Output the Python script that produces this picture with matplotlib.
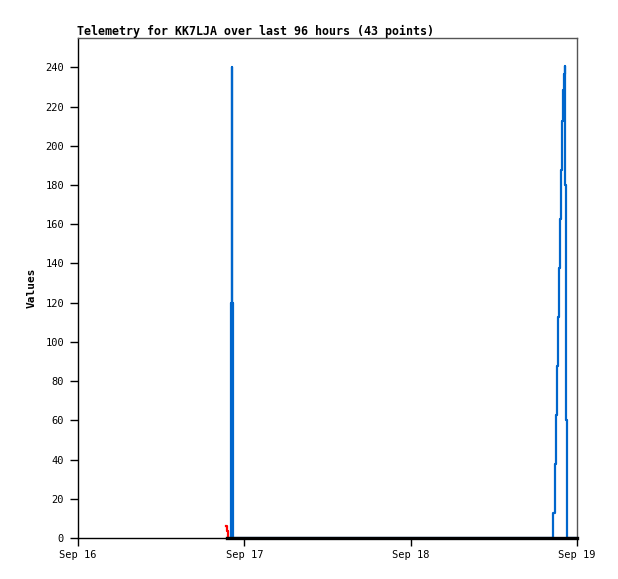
import matplotlib
matplotlib.use("Agg")
import matplotlib.pyplot as plt
import pandas as pd

# telemetry channels (step plots)
red_times = ["2024-09-16 21:20", "2024-09-16 21:33", "2024-09-16 21:40"]
red_vals = [6, 3.5, 0]

blue_times = ["2024-09-16 21:50", "2024-09-16 22:01", "2024-09-16 22:09", "2024-09-16 22:11",
              "2024-09-16 22:19", "2024-09-18 20:35", "2024-09-18 20:49", "2024-09-18 20:58",
              "2024-09-18 21:07", "2024-09-18 21:15", "2024-09-18 21:24", "2024-09-18 21:33",
              "2024-09-18 21:41", "2024-09-18 21:52", "2024-09-18 22:01", "2024-09-18 22:07",
              "2024-09-18 22:13", "2024-09-18 22:20", "2024-09-18 22:25", "2024-09-18 22:31",
              "2024-09-19 00:00"]
blue_vals = [0, 120, 240, 120, 0, 12.5, 37.5, 62.5, 87.5, 112.5, 137.5, 162.5, 187.5,
             212.5, 228.5, 236.5, 240.5, 180, 60, 0, 0]

black_times = ["2024-09-16 21:30", "2024-09-19 00:00"]
black_vals = [0, 0]

x_ticks = ["2024-09-16", "2024-09-17", "2024-09-18", "2024-09-19"]
x_labels = ["Sep 16", "Sep 17", "Sep 18", "Sep 19"]
y_ticks = list(range(0, 241, 20))

plt.rcParams["font.family"] = "DejaVu Sans Mono"

fig = plt.figure(figsize=(6.18, 5.79), dpi=100)
ax = fig.add_axes([78 / 618, 41 / 579, 499 / 618, 500 / 579])

ax.step(pd.to_datetime(blue_times), blue_vals, where="post", color="#0066cc", lw=1.6, zorder=2)
ax.step(pd.to_datetime(red_times), red_vals, where="post", color="#ff0000", lw=1.6, zorder=3)
ax.step(pd.to_datetime(black_times), black_vals, where="post", color="black", lw=2.4, zorder=4,
        clip_on=False)

ax.set_xlim(pd.Timestamp(x_ticks[0]), pd.Timestamp(x_ticks[-1]))
ax.set_ylim(0, 255)
ax.set_xticks(pd.to_datetime(x_ticks))
ax.set_xticklabels(x_labels)
ax.set_yticks(y_ticks)
ax.tick_params(axis="both", direction="out", length=6, width=1, labelsize=7.5, colors="black")
ax.tick_params(axis="x", pad=3)
ax.tick_params(axis="y", pad=4)

for side in ["top", "right"]:
    ax.spines[side].set_color("#555555")
    ax.spines[side].set_linewidth(1)
for side in ["left", "bottom"]:
    ax.spines[side].set_color("black")
    ax.spines[side].set_linewidth(1)

ax.set_ylabel("Values", fontsize=8, fontweight="bold", labelpad=6)
fig.text(77 / 618, 1 - 31 / 579, "Telemetry for KK7LJA over last 96 hours (43 points)",
         fontsize=8.4, fontweight="bold", ha="left", va="center")

fig.savefig("out.png", dpi=100)
